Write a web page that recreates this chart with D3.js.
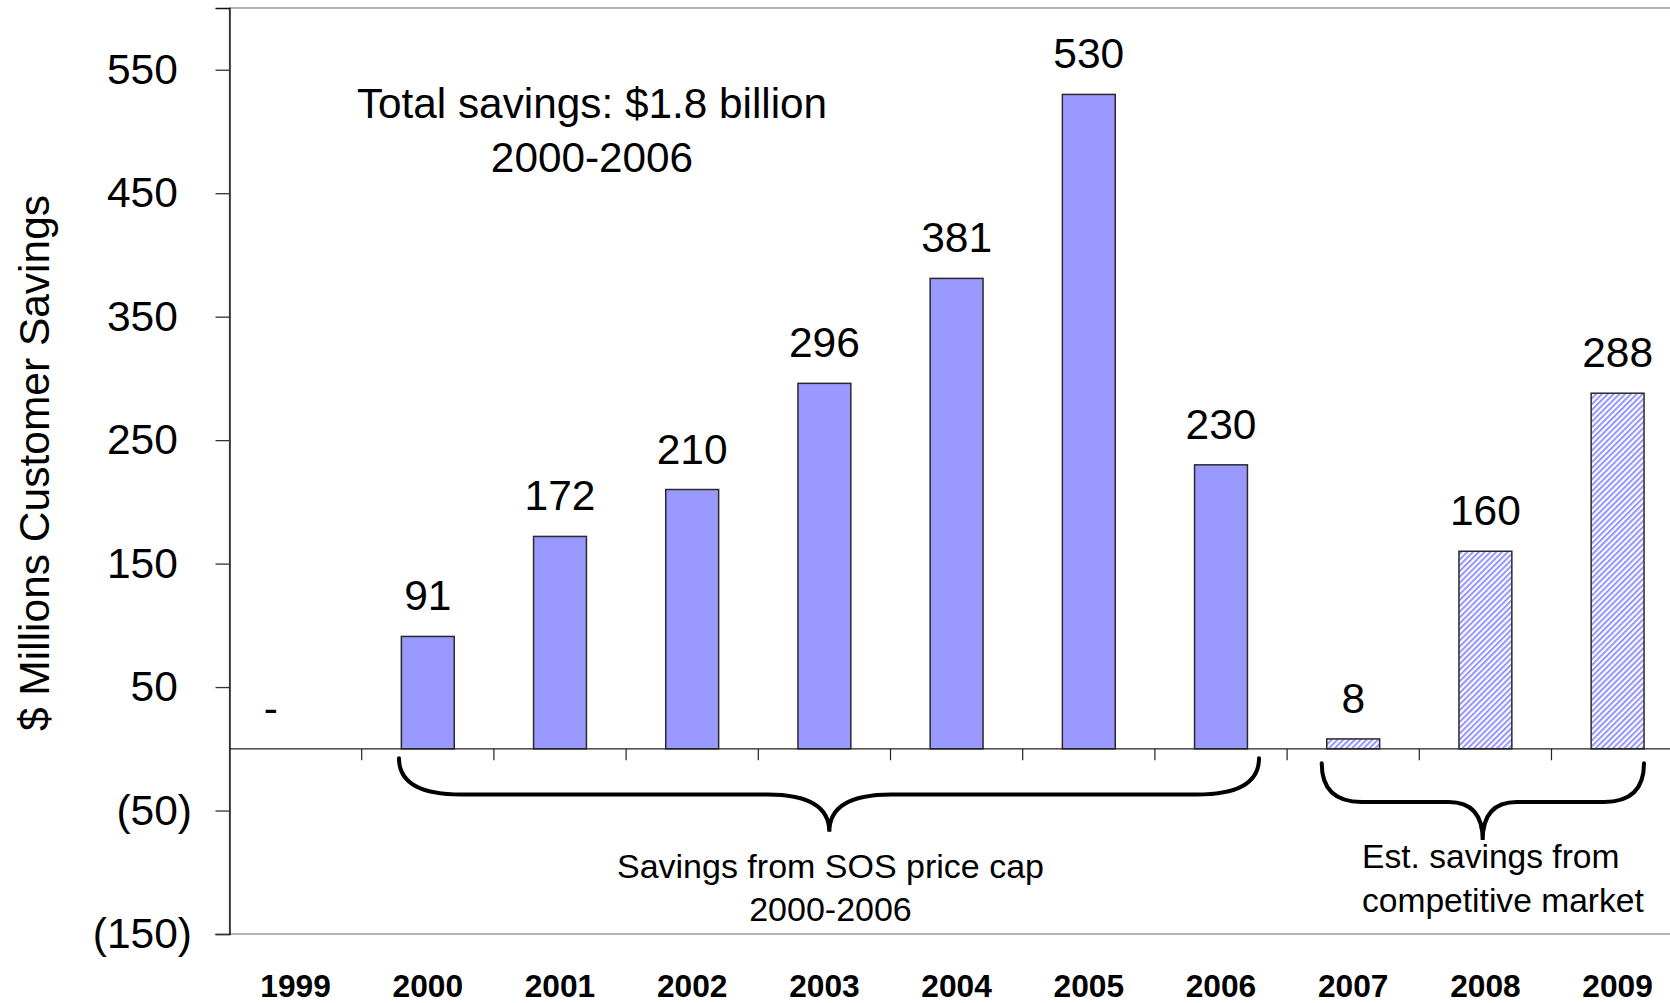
<!DOCTYPE html>
<html>
<head>
<meta charset="utf-8">
<script src="https://cdn.jsdelivr.net/npm/d3@7/dist/d3.min.js"></script>
<style>
  html, body { margin: 0; padding: 0; background: #fff; }
  svg { display: block; font-family: "Liberation Sans", Arial, sans-serif; }
</style>
</head>
<body>
<svg id="chart" width="1670" height="1003"></svg>
<script>
// ---- data ----
const years = ["1999", "2000", "2001", "2002", "2003", "2004", "2005", "2006", "2007", "2008", "2009"];
const savings = [0, 91, 172, 210, 296, 381, 530, 230, 8, 160, 288];
const estimated = [false, false, false, false, false, false, false, false, true, true, true];
const yTicks = [-150, -50, 50, 150, 250, 350, 450, 550];
const yTitle = "$ Millions Customer Savings";
const noteTotal = ["Total savings: $1.8 billion", "2000-2006"];
const noteCap = ["Savings from SOS price cap", "2000-2006"];
const noteMarket = ["Est. savings from", "competitive market"];

const data = years.map((yr, i) => ({ year: yr, value: savings[i], est: estimated[i] }));

// ---- layout ----
const svg = d3.select("#chart");
const plot = { left: 229.5, right: 1683.7, top: 8, bottom: 934 };

const x = d3.scaleBand().domain(years).range([plot.left, plot.right])
  .paddingInner(0.6).paddingOuter(0.3);
const y = d3.scaleLinear().domain([-150, 600]).range([plot.bottom, plot.top]);

const defs = svg.append("defs");
const pat = defs.append("pattern").attr("id", "hatch")
  .attr("patternUnits", "userSpaceOnUse").attr("width", 4.1).attr("height", 4.1)
  .attr("patternTransform", "rotate(45)");
pat.append("rect").attr("width", 4.1).attr("height", 4.1).attr("fill", "#fff");
pat.append("rect").attr("width", 2.0).attr("height", 4.1).attr("fill", "#9494FF");

// plot border (gray)
svg.append("rect")
  .attr("x", plot.left).attr("y", plot.top)
  .attr("width", plot.right - plot.left).attr("height", plot.bottom - plot.top)
  .attr("fill", "none").attr("stroke", "#8c8c8c").attr("stroke-width", 1.3);

// bars
svg.append("g").selectAll("rect").data(data.filter(d => d.value !== 0)).join("rect")
  .attr("x", d => x(d.year))
  .attr("y", d => y(Math.max(0, d.value)))
  .attr("width", x.bandwidth())
  .attr("height", d => Math.abs(y(d.value) - y(0)))
  .attr("fill", d => d.est ? "url(#hatch)" : "#9999FF")
  .attr("stroke", "#2a2a2a").attr("stroke-width", 1.5);

// zero line
svg.append("line")
  .attr("x1", plot.left).attr("x2", plot.right)
  .attr("y1", y(0)).attr("y2", y(0))
  .attr("stroke", "#222").attr("stroke-width", 1.3);

// category separator ticks on zero line
const gap = (x.step() - x.bandwidth()) / 2;
svg.append("g").selectAll("line").data(years.slice(1)).join("line")
  .attr("x1", d => x(d) - gap).attr("x2", d => x(d) - gap)
  .attr("y1", y(0)).attr("y2", y(0) + 11.5)
  .attr("stroke", "#222").attr("stroke-width", 1.2);

// y axis
const yAxis = svg.append("g").attr("transform", `translate(${plot.left},0)`)
  .call(d3.axisLeft(y).tickValues(yTicks).tickSize(14).tickPadding(23.5)
    .tickFormat(v => v < 0 ? `(${Math.abs(v)})` : `${v}`));
yAxis.select(".domain").attr("stroke", "#111").attr("stroke-width", 1.4);
yAxis.selectAll(".tick line").attr("stroke", "#333").attr("stroke-width", 1.3);
yAxis.selectAll(".tick text")
  .attr("font-size", 42.5).attr("fill", "#000")
  .attr("font-family", "'Liberation Sans', Arial, sans-serif")
  .attr("dx", v => v < 0 ? 0 : -14.2);

// x axis labels
const xAxis = svg.append("g").attr("transform", `translate(0,${plot.bottom})`)
  .call(d3.axisBottom(x).tickSize(0).tickPadding(40.5));
xAxis.select(".domain").remove();
xAxis.selectAll(".tick text")
  .attr("font-size", 31.7).attr("font-weight", "bold").attr("fill", "#000")
  .attr("font-family", "'Liberation Sans', Arial, sans-serif");

// value labels
svg.append("g").selectAll("text").data(data).join("text")
  .attr("x", d => x(d.year) + x.bandwidth() / 2)
  .attr("y", d => y(Math.max(0, d.value)) - 26)
  .attr("dx", d => d.value === 0 ? "-0.58em" : 0)
  .attr("text-anchor", "middle")
  .attr("font-size", 42.5).attr("fill", "#000")
  .text(d => d.value === 0 ? "-" : d3.format(",")(d.value));

// y title
svg.append("text")
  .attr("transform", `translate(48.5,${(plot.top + plot.bottom) / 2 - 8}) rotate(-90)`)
  .attr("text-anchor", "middle").attr("font-size", 42.5).attr("fill", "#000")
  .text(yTitle);

// total savings note
svg.append("g").selectAll("text").data(noteTotal).join("text")
  .attr("x", 592).attr("y", (d, i) => 118.3 + i * 53.4)
  .attr("text-anchor", "middle").attr("font-size", 42.3).attr("fill", "#000")
  .text(d => d);

// braces
function brace(x1, x2, xm, y0, y1, y2, r, r2) {
  return `M${x1},${y0} Q${x1},${y1} ${x1 + r},${y1}` +
    ` L${xm - r2},${y1} Q${xm},${y1} ${xm},${y2}` +
    ` Q${xm},${y1} ${xm + r2},${y1}` +
    ` L${x2 - r},${y1} Q${x2},${y1} ${x2},${y0}`;
}
svg.append("path")
  .attr("d", brace(399, 1259, 829.3, 758.3, 794.5, 831.7, 62, 62))
  .attr("fill", "none").attr("stroke", "#000").attr("stroke-width", 4).attr("stroke-linecap", "round");
svg.append("path")
  .attr("d", brace(1321.7, 1644, 1482.7, 763.3, 802, 840, 40, 34))
  .attr("fill", "none").attr("stroke", "#000").attr("stroke-width", 4).attr("stroke-linecap", "round");

// brace notes
svg.append("g").selectAll("text").data(noteCap).join("text")
  .attr("x", 830.5).attr("y", (d, i) => 877.7 + i * 43.4)
  .attr("text-anchor", "middle").attr("font-size", 34).attr("fill", "#000")
  .text(d => d);
svg.append("g").selectAll("text").data(noteMarket).join("text")
  .attr("x", 1362).attr("y", (d, i) => 868.3 + i * 43.4)
  .attr("text-anchor", "start").attr("font-size", 33.6).attr("fill", "#000")
  .text(d => d);
</script>
</body>
</html>
